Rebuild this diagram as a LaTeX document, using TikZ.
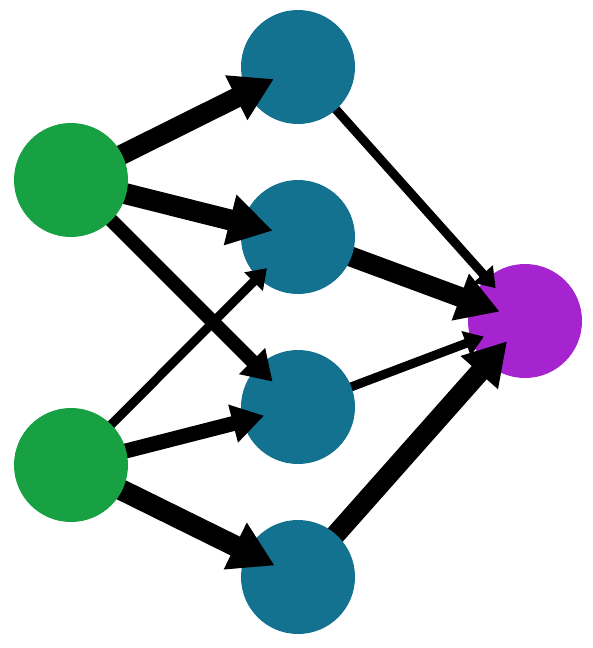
\documentclass[tikz,border=0pt]{standalone}
\usetikzlibrary{arrows.meta}
\definecolor{ingreen}{RGB}{24,161,66}
\definecolor{hidblue}{RGB}{19,114,143}
\definecolor{outpurple}{RGB}{166,35,208}
\tikzset{
  neuron/.style={circle, minimum size=114pt, inner sep=0pt, outer sep=0pt, draw=none},
  wt/.style n args={4}{line width=#1pt, -{Triangle[length=#2pt,width=#3pt]}, shorten >=#4pt}
}
\begin{document}
\begin{tikzpicture}[x=1pt,y=-1pt]
\useasboundingbox (0,0) rectangle (592,648);
% output
\node[neuron, fill=outpurple] (o) at (525,321) {};
% hidden positions
\coordinate (c1) at (298,67);
\coordinate (c2) at (298,237);
\coordinate (c3) at (298,407);
\coordinate (c4) at (298,577);
\coordinate (g1) at (71,180);
\coordinate (g2) at (71,465);
% hidden -> output
\draw[wt={9}{19}{25}{-13}] (c1) -- (o);
\draw[wt={20}{42}{47}{-30}] (c2) -- (o);
\draw[wt={9}{19}{25}{-13}] (c3) -- (o);
\draw[wt={20}{42}{47}{-30}] (c4) -- (o);
% hidden nodes
\node[neuron, fill=hidblue] (h1) at (c1) {};
\node[neuron, fill=hidblue] (h2) at (c2) {};
\node[neuron, fill=hidblue] (h3) at (c3) {};
\node[neuron, fill=hidblue] (h4) at (c4) {};
% input -> hidden
\draw[wt={20}{42}{47}{-30}] (g1) -- (h1);
\draw[wt={21}{44}{49}{-31}] (g1) -- (h2);
\draw[wt={14}{29}{35}{-21}] (g1) -- (h3);
\draw[wt={9}{19}{25}{-13}] (g2) -- (h2);
\draw[wt={15}{32}{37}{-22}] (g2) -- (h3);
\draw[wt={21}{44}{49}{-31}] (g2) -- (h4);
% input nodes
\node[neuron, fill=ingreen] (i1) at (g1) {};
\node[neuron, fill=ingreen] (i2) at (g2) {};
\end{tikzpicture}
\end{document}
